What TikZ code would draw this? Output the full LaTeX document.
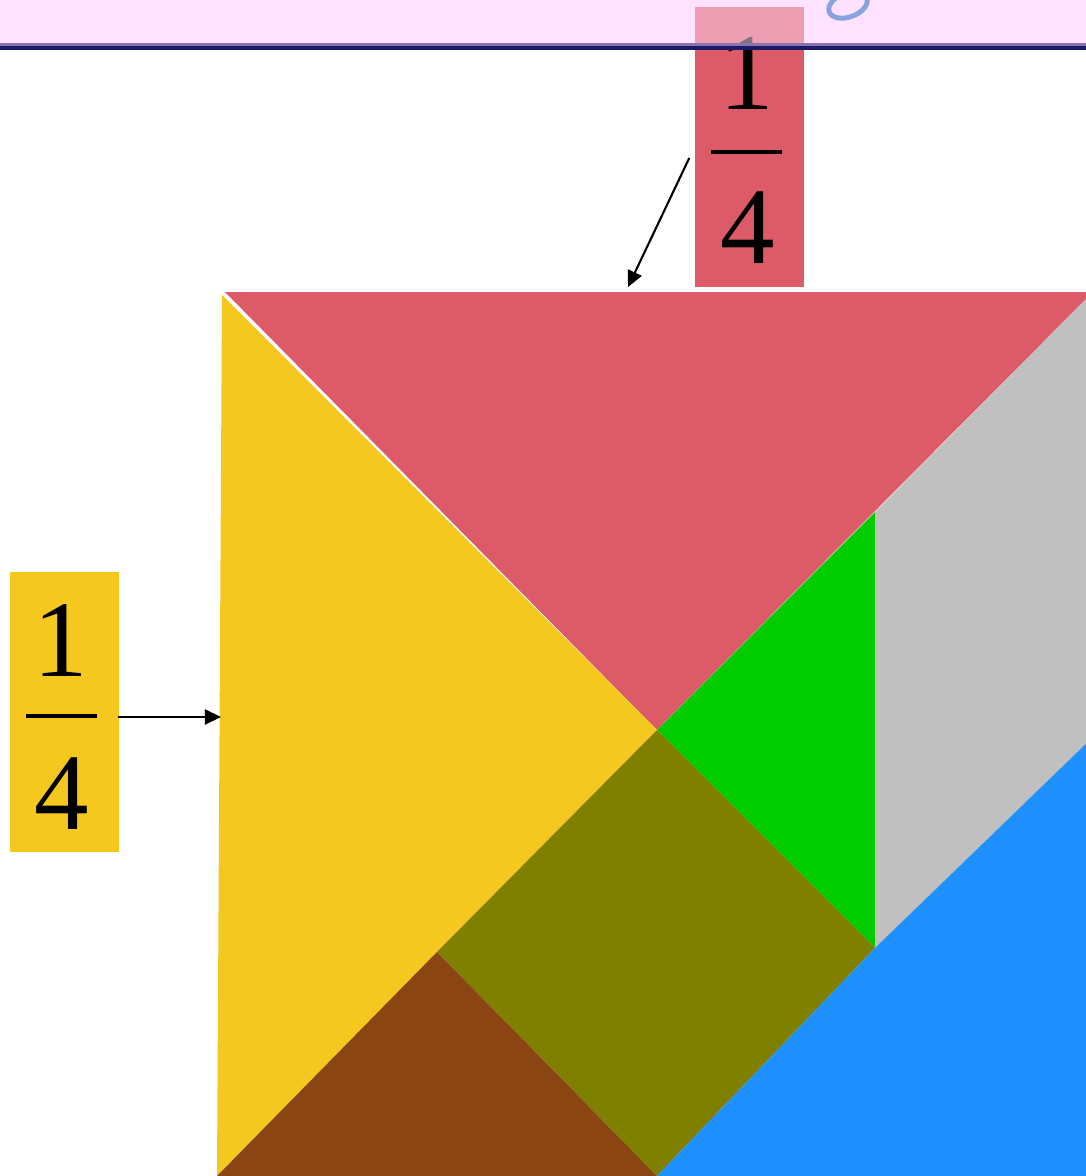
\documentclass[tikz,border=0pt]{standalone}
\usepackage{fontspec}
\setmainfont{Liberation Serif}
\usetikzlibrary{arrows.meta}

\definecolor{tanred}{HTML}{DD5A68}
\definecolor{tanyellow}{HTML}{F5C820}
\definecolor{tangreen}{HTML}{00CC00}
\definecolor{tangrey}{HTML}{C0C0C0}
\definecolor{tanolive}{HTML}{808000}
\definecolor{tanbrown}{HTML}{8B4513}
\definecolor{tanblue}{HTML}{1E90FF}
\definecolor{bandpink}{HTML}{FFE2FF}
\definecolor{bandpurple}{HTML}{8B72B0}
\definecolor{bandnavy}{HTML}{1C1A66}
\definecolor{glyphblue}{HTML}{86A4E0}

\begin{document}
\begin{tikzpicture}[x=0.01cm,y=-0.01cm,
  fracbox/.style={inner sep=0pt,minimum width=1.09cm,minimum height=2.8cm},
  digit/.style={inner sep=0pt,anchor=base,font=\fontsize{31}{31}\selectfont},
  fracbar/.style={line width=1.1pt},
  pointer/.style={-{Triangle[length=1.6mm,width=1.5mm]},line width=0.6pt}]
  \useasboundingbox (0,0) rectangle (1086,1176);
  \clip (0,0) rectangle (1086,1176);

  % header band
  \fill[bandpink] (0,0) rectangle (1086,43);

  % tangram corners
  \coordinate (A) at (223,292);
  \coordinate (B) at (1093,292);
  \coordinate (C) at (657,730);
  \coordinate (D) at (217,1176);
  \coordinate (E) at (875,512);
  \coordinate (F) at (875,948);
  \coordinate (G) at (657,1176);
  \coordinate (H) at (437,952);
  \coordinate (I) at (1093,737);

  \fill[tanred] ([shift={(2,0)}]A) -- (B) -- (C) -- cycle;
  \fill[tanyellow] ([shift={(-1,3)}]A) -- (C) -- (D) -- cycle;
  \fill[tangreen] (C) -- (E) -- (F) -- cycle;
  \fill[tangrey] (E) -- (B) -- ([shift={(0,20)}]I) -- (F) -- cycle;
  \fill[tanolive] (C) -- (F) -- (G) -- (H) -- cycle;
  \fill[tanbrown] (H) -- (G) -- (D) -- cycle;
  \fill[tanblue] (I) -- (F) -- (G) -- (1093,1176) -- cycle;

  % labels
  \node[fracbox,fill=tanred] (topfrac) at (749.5,147) {};
  \node[digit] (topnum) at (746.5,110) {1};
  \node[digit] (topden) at (747.5,263) {4};
  \draw[fracbar] (711,152) -- (782,152);

  \node[fracbox,fill=tanyellow] (leftfrac) at (64.5,712) {};
  \node[digit] (leftnum) at (61,676) {1};
  \node[digit] (leftden) at (61.5,829) {4};
  \draw[fracbar] (26,716) -- (97,716);

  % band lies over the top label
  \fill[bandpink,opacity=0.5] (0,0) rectangle (1086,43);
  \fill[bandpurple] (0,43) rectangle (1086,46);
  \fill[bandnavy] (0,46) rectangle (1086,50);
  \draw[glyphblue,line width=1.4pt,rotate around={20:(848,5)}]
    (848,5) ellipse [x radius=20,y radius=12];

  \coordinate (redtip) at (628,287);
  \coordinate (yeltip) at (221,717);
  \draw[pointer] ([shift={(-5,11)}]topfrac.west) -- (redtip);
  \draw[pointer] ([shift={(-2,5)}]leftfrac.east) -- (yeltip);
\end{tikzpicture}
\end{document}
